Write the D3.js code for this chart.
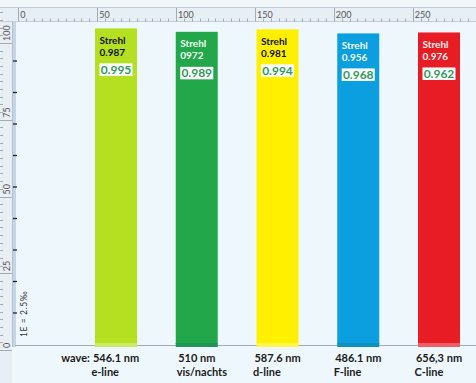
<!DOCTYPE html>
<html><head><meta charset="utf-8">
<script src="https://cdn.jsdelivr.net/npm/d3@7"></script>
<style>html,body{margin:0;padding:0;background:#f2f7fa;}svg{display:block;}</style>
</head><body>
<script>
// ---- data ----
const wavelengths = ["546.1 nm", "510 nm", "587.6 nm", "486.1 nm", "656,3 nm"];
const lineNames = ["e-line", "vis/nachts", "d-line", "F-line", "C-line"];
const strehlLabels = ["0.987", "0972", "0.981", "0.956", "0.976"];
const strehlBoxed = ["0.995", "0.989", "0.994", "0.968", "0.962"];
const barHeights = [100.2, 99.1, 99.9, 98.6, 98.9];
const topRulerTicks = [0, 50, 100, 150, 200, 250];
const leftRulerTicks = [0, 25, 50, 75, 100];
const noteText = "1E = 2.5‰";

// ---- styles ----
const barColors = ["#b4e021", "#22a84a", "#fff000", "#0c9fe0", "#e81c24"];
const barTextColors = ["#111", "#f2fff2", "#111", "#f2f9ff", "#fff2f2"];
const font = "Lato, 'Open Sans', sans-serif";

const W = 476, H = 383;
const svg = d3.select("body").append("svg").attr("width", W).attr("height", H);

// page/plot backgrounds
svg.append("rect").attr("width", W).attr("height", H).attr("fill", "#f2f7fa");
svg.append("rect").attr("x", 15).attr("y", 22).attr("width", W - 15).attr("height", H - 22).attr("fill", "#eef8fc");

// scales
const x = d3.scaleBand().domain(wavelengths).range([95, 460]).paddingInner(0.48).paddingOuter(0);
const y = d3.scaleLinear().domain([0, 100]).range([344, 29]);
const rx = d3.scaleLinear().domain([0, 290]).range([18.3, 18.3 + 290 * 1.5776]);
const ry = d3.scaleLinear().domain([0, 110]).range([350, 350 - 110 * 3.07]);

// top ruler
svg.append("rect").attr("x", 0).attr("y", 7).attr("width", W).attr("height", 15).attr("fill", "#e7eef4");
svg.append("line").attr("x1", 0).attr("x2", W).attr("y1", 7.5).attr("y2", 7.5).attr("stroke", "#c3ceda");
svg.append("line").attr("x1", 0).attr("x2", W).attr("y1", 21.5).attr("y2", 21.5).attr("stroke", "#c3ceda");
const topAxis = d3.axisBottom(rx).tickValues(d3.range(0, 291, 5)).tickSize(0).tickFormat("");
const tr = svg.append("g");
tr.selectAll("line.minor").data(d3.range(0, 291, 5)).join("line")
  .attr("x1", d => Math.round(rx(d)) + 0.5).attr("x2", d => Math.round(rx(d)) + 0.5)
  .attr("y1", d => d % 50 === 0 ? 8 : 18.5).attr("y2", 21.5)
  .attr("stroke", "#8e9aa6").attr("stroke-width", 0.8);
tr.selectAll("text").data(topRulerTicks).join("text")
  .attr("x", d => rx(d) + 2).attr("y", 17.5)
  .attr("font-family", font).attr("font-size", 9).attr("fill", "#555")
  .text(d => d);

// left ruler
svg.append("rect").attr("x", 0).attr("y", 22).attr("width", 12).attr("height", H - 22).attr("fill", "#e7eef4");
svg.append("rect").attr("x", 12).attr("y", 22).attr("width", 4).attr("height", 325).attr("fill", "#c7d4e2");
svg.append("line").attr("x1", 12.5).attr("x2", 12.5).attr("y1", 22).attr("y2", 347).attr("stroke", "#b3c0ce");
svg.append("g").selectAll("line").data(d3.range(0, 111, 2.5)).join("line")
  .attr("x1", 0).attr("x2", d => d % 25 === 0 ? 12 : 3)
  .attr("y1", d => Math.round(ry(d)) + 0.5).attr("y2", d => Math.round(ry(d)) + 0.5)
  .attr("stroke", "#8e9aa6").attr("stroke-width", 0.8);
svg.append("g").selectAll("text").data(leftRulerTicks).join("text")
  .attr("transform", d => `translate(9.5,${ry(d) - 2}) rotate(-90)`)
  .attr("font-family", font).attr("font-size", 9).attr("fill", "#555")
  .text(d => d);

// E-unit ticks on the left band, from the bar scale
const eAxis = d3.axisRight(y).tickValues(d3.range(10, 100, 10)).tickSize(4).tickFormat("");
const eg = svg.append("g").attr("transform", "translate(13,0)").call(eAxis);
eg.select(".domain").remove();
eg.selectAll(".tick line").attr("stroke", "#222").attr("stroke-width", 1.3);

// note
svg.append("text").attr("transform", "translate(27,337) rotate(-90)")
  .attr("font-family", font).attr("font-size", 8.5).attr("fill", "#333")
  .attr("letter-spacing", 0.6).text(noteText);

// baseline
svg.append("line").attr("x1", 15).attr("x2", W).attr("y1", 345.5).attr("y2", 345.5)
  .attr("stroke", "#a4adb5").attr("stroke-width", 1);

// bars
const bars = svg.append("g").selectAll("g").data(wavelengths).join("g");
bars.append("rect")
  .attr("x", d => x(d)).attr("width", x.bandwidth())
  .attr("y", (d, i) => y(barHeights[i])).attr("height", (d, i) => y(0) - y(barHeights[i]))
  .attr("fill", (d, i) => barColors[i]);
bars.append("rect")
  .attr("x", d => x(d)).attr("width", x.bandwidth())
  .attr("y", y(0) - 1).attr("height", 4)
  .attr("fill", (d, i) => d3.interpolateRgb(barColors[i], i % 2 ? "#1a6a80" : "#ffffff")(0.3));

bars.append("text")
  .attr("x", d => x(d) + 4.5).attr("y", (d, i) => y(barHeights[i]) + 15.5)
  .attr("font-family", font).attr("font-weight", 700).attr("font-size", 10)
  .attr("fill", (d, i) => barTextColors[i]).text("Strehl");
bars.append("text")
  .attr("x", d => x(d) + 4.5).attr("y", (d, i) => y(barHeights[i]) + 27.5)
  .attr("font-family", font).attr("font-weight", 700).attr("font-size", 10)
  .attr("fill", (d, i) => barTextColors[i]).text((d, i) => strehlLabels[i]);
bars.append("rect")
  .attr("x", d => x(d) + x.bandwidth() / 2 - 16.5).attr("width", 33)
  .attr("y", (d, i) => y(barHeights[i]) + 35).attr("height", 12.5)
  .attr("fill", "#ffffff");
bars.append("text")
  .attr("x", d => x(d) + x.bandwidth() / 2).attr("y", (d, i) => y(barHeights[i]) + 45.5)
  .attr("text-anchor", "middle")
  .attr("font-family", font).attr("font-weight", 700).attr("font-size", 12)
  .attr("fill", "#2f9a5c").text((d, i) => strehlBoxed[i]);

// bottom labels
const lab = svg.append("g").selectAll("g").data(wavelengths).join("g");
const l1 = lab.append("text")
  .attr("x", d => x(d) + x.bandwidth() / 2).attr("y", 362)
  .attr("text-anchor", "middle")
  .attr("font-family", font).attr("font-weight", 700).attr("font-size", 11)
  .attr("fill", "#1b1b1b").text(d => d);
l1.each(function (d, i) {
  const w = this.getComputedTextLength();
  const left = x(d) + x.bandwidth() / 2 - w / 2;
  d3.select(this.parentNode).append("text")
    .attr("x", left - 1.5).attr("y", 376)
    .attr("font-family", font).attr("font-weight", 700).attr("font-size", 11)
    .attr("fill", "#1b1b1b").text(lineNames[i]);
  if (i === 0) {
    d3.select(this.parentNode).append("text")
      .attr("x", left - 3).attr("y", 362).attr("text-anchor", "end")
      .attr("font-family", font).attr("font-weight", 700).attr("font-size", 11)
      .attr("fill", "#1b1b1b").text("wave:");
  }
});
</script>
</body></html>
